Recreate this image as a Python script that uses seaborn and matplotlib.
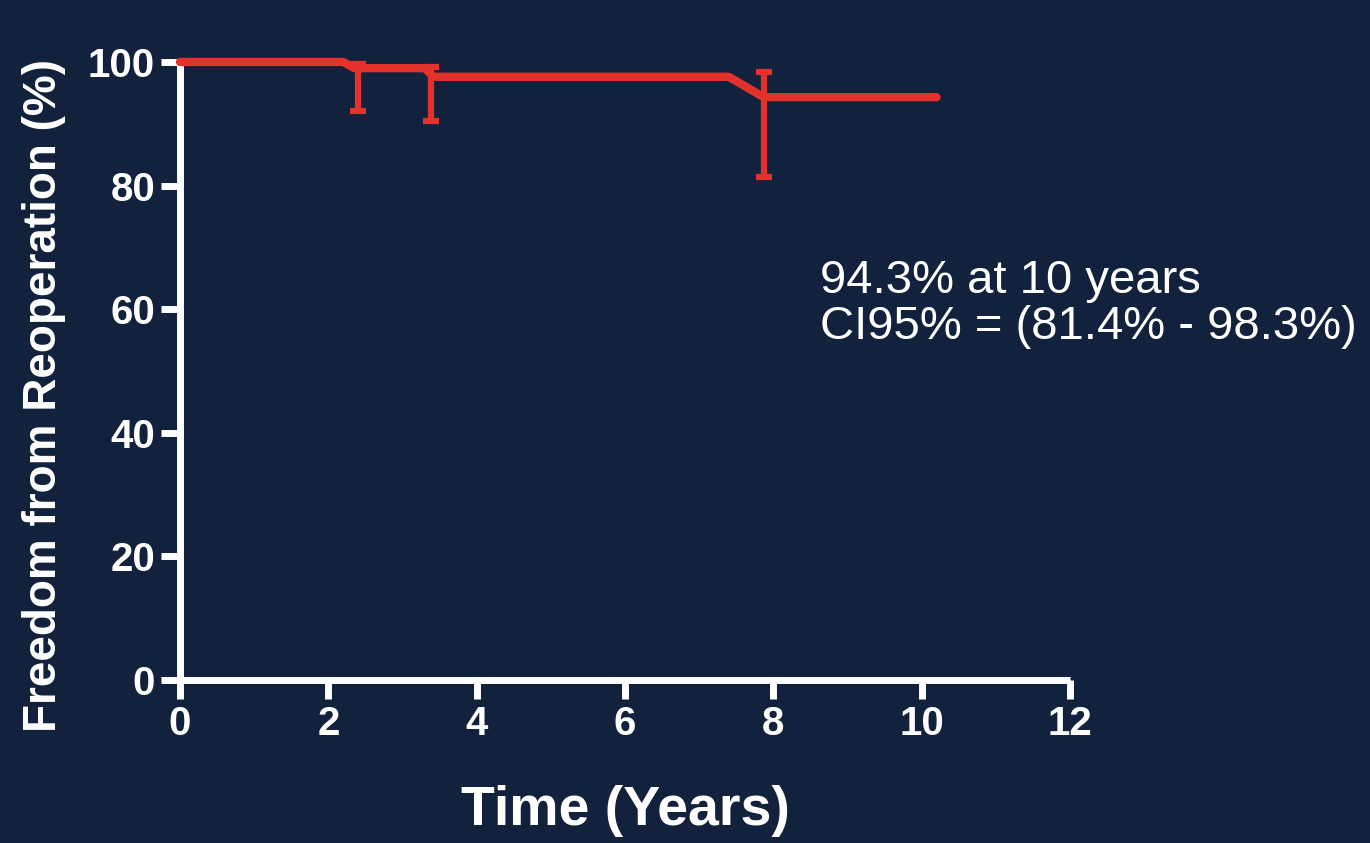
import matplotlib
matplotlib.use("Agg")
import matplotlib.pyplot as plt
import seaborn as sns
import pandas as pd

# Kaplan-Meier style survival curve (freedom from reoperation)
time_years = [0.0, 2.2, 2.35, 3.3, 3.42, 7.4, 7.87, 10.2]
freedom_pct = [100.0, 100.0, 99.0, 99.0, 97.6, 97.6, 94.3, 94.3]

# Confidence-interval whiskers at event times
ci_time = [2.4, 3.38, 7.87]
ci_center = [99.0, 97.6, 94.3]
ci_lower = [92.1, 90.4, 81.4]
ci_upper = [99.7, 99.2, 98.3]

x_ticks = [0, 2, 4, 6, 8, 10, 12]
y_ticks = [0, 20, 40, 60, 80, 100]

annotation = "94.3% at 10 years\nCI95% = (81.4% - 98.3%)"

BG = "#12223d"
RED = "#e3312b"
WHITE = "#ffffff"

sns.set_style("ticks")
plt.rcParams["font.family"] = ["Liberation Sans", "DejaVu Sans"]

fig = plt.figure(figsize=(13.7, 8.43), dpi=100, facecolor=BG)
ax = fig.add_axes([0.1314, 0.1934, 0.6496, 0.7331])
ax.set_facecolor(BG)

df = pd.DataFrame({"time": time_years, "freedom": freedom_pct})
sns.lineplot(data=df, x="time", y="freedom", ax=ax, estimator=None, sort=False,
             color=RED, linewidth=6, solid_capstyle="round", zorder=3)
for ln in ax.lines:
    ln.set_clip_on(False)

yerr_low = [c - l for c, l in zip(ci_center, ci_lower)]
yerr_high = [u - c for c, u in zip(ci_center, ci_upper)]
eb = ax.errorbar(ci_time, ci_center, yerr=[yerr_low, yerr_high], fmt="none",
                 ecolor=RED, elinewidth=4.5, capsize=6, capthick=4.5, zorder=3)
for art in eb.get_children():
    art.set_clip_on(False)

ax.set_xlim(0, 12)
ax.set_ylim(0, 100)
ax.set_xticks(x_ticks)
ax.set_yticks(y_ticks)

for side in ("top", "right"):
    ax.spines[side].set_visible(False)
for side in ("left", "bottom"):
    ax.spines[side].set_color(WHITE)
    ax.spines[side].set_linewidth(5)
    ax.spines[side].set_capstyle("butt")

ax.tick_params(axis="both", colors=WHITE, width=5, length=14, direction="out",
               labelsize=29, pad=4)
for lab in ax.get_xticklabels() + ax.get_yticklabels():
    lab.set_fontweight("bold")
    lab.set_color(WHITE)

ax.set_xlabel("Time (Years)", color=WHITE, fontsize=40, fontweight="bold", labelpad=30)
ax.set_ylabel("Freedom from Reoperation (%)", color=WHITE, fontsize=33,
              fontweight="bold")
ax.yaxis.set_label_coords(-0.128, 0.461)

ax.text(8.63, 60.8, annotation, color=WHITE, fontsize=34, ha="left", va="center",
        linespacing=1.05, clip_on=False)

fig.savefig("out.png", dpi=100, facecolor=BG)
